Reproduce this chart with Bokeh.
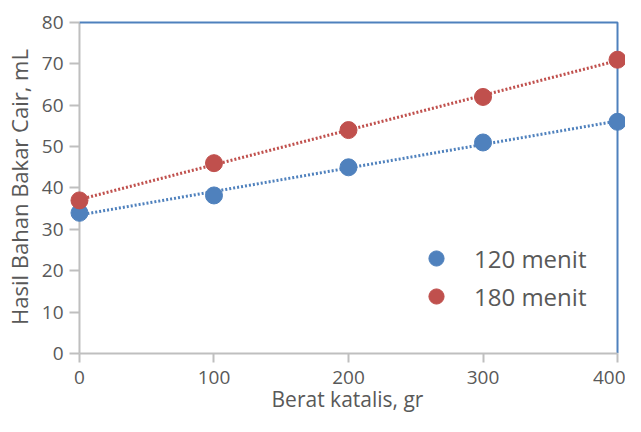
import numpy as np
from bokeh.plotting import figure
from bokeh.models import Range1d, FixedTicker, Legend, LegendItem
from bokeh.embed import file_html
from bokeh.resources import INLINE

berat = [0, 100, 200, 300, 400]
hasil_120 = [34, 38.2, 45, 51, 56]
hasil_180 = [37, 46, 54, 62, 71]
x_ticks = [0, 100, 200, 300, 400]
y_ticks = [0, 10, 20, 30, 40, 50, 60, 70, 80]

BLUE = "#4F81BD"
RED = "#C0504D"
FONT = "Open Sans"
TXT = "#595959"
GRAY = "#BFBFBF"

# frame is a little larger than the 0..400 x 0..80 area so edge markers are not clipped
p = figure(width=625, height=416, output_backend="svg", toolbar_location=None,
           x_range=Range1d(-7.42, 405.94), y_range=Range1d(0, 80.48))
p.min_border_left = 68
p.min_border_right = 0
p.min_border_top = 20
p.min_border_bottom = 63
p.outline_line_color = None
p.grid.visible = False
p.background_fill_color = "white"
p.border_fill_color = "white"

for ax in (p.xaxis[0], p.yaxis[0]):
    ax.axis_line_color = GRAY
    ax.axis_line_width = 2
    ax.major_tick_line_color = GRAY
    ax.major_tick_line_width = 2
    ax.minor_tick_line_color = None
    ax.major_label_text_font = FONT
    ax.major_label_text_font_size = "19px"
    ax.major_label_text_color = TXT
    ax.axis_label_text_font = FONT
    ax.axis_label_text_font_style = "normal"
    ax.axis_label_text_color = TXT

p.xaxis.axis_label_text_font_size = "21px"
p.yaxis.axis_label_text_font_size = "22px"
p.xaxis.major_tick_in = 0
p.xaxis.major_tick_out = 9
p.xaxis.bounds = (0, 400)
# y axis sits at the left edge of the frame: ticks reach inward to x = 0
p.yaxis.axis_line_color = None
p.yaxis.major_tick_in = 10
p.yaxis.major_tick_out = 0
p.xaxis.ticker = FixedTicker(ticks=x_ticks)
p.yaxis.ticker = FixedTicker(ticks=y_ticks)
p.xaxis.axis_label = "Berat katalis, gr"
p.yaxis.axis_label = "Hasil Bahan Bakar Cair, mL"
p.xaxis.major_label_standoff = 8
p.yaxis.major_label_standoff = 6
p.xaxis.axis_label_standoff = -2
p.yaxis.axis_label_standoff = 5

# y axis line at x = 0 and the blue top / right borders of the plot area
p.line([x_ticks[0], x_ticks[0]], [y_ticks[0], y_ticks[-1]], line_color=GRAY, line_width=2)
p.line([x_ticks[0], x_ticks[-1], x_ticks[-1]], [y_ticks[-1], y_ticks[-1], y_ticks[0]],
       line_color=BLUE, line_width=2)

xs = np.array(berat, dtype=float)
xfit = np.array([berat[0], berat[-1]], dtype=float)
for ys, col in ((hasil_120, BLUE), (hasil_180, RED)):
    m, b = np.polyfit(xs, np.array(ys, dtype=float), 1)
    p.line(xfit, m * xfit + b, line_color=col, line_width=3, line_dash="2 2")

r1 = p.scatter(berat, hasil_120, size=17, fill_color=BLUE, line_color=BLUE)
r2 = p.scatter(berat, hasil_180, size=17, fill_color=RED, line_color=RED)

legend = Legend(items=[LegendItem(label="120 menit", renderers=[r1]),
                       LegendItem(label="180 menit", renderers=[r2])],
                location=(347, 38))
legend.margin = 0
legend.padding = 10
legend.border_line_color = None
legend.background_fill_alpha = 0
legend.label_text_font = FONT
legend.label_text_font_size = "24px"
legend.label_text_color = TXT
legend.glyph_width = 40
legend.glyph_height = 38
legend.spacing = 0
legend.label_standoff = 18
p.add_layout(legend)

open("out.html", "w").write(file_html(p, INLINE))
